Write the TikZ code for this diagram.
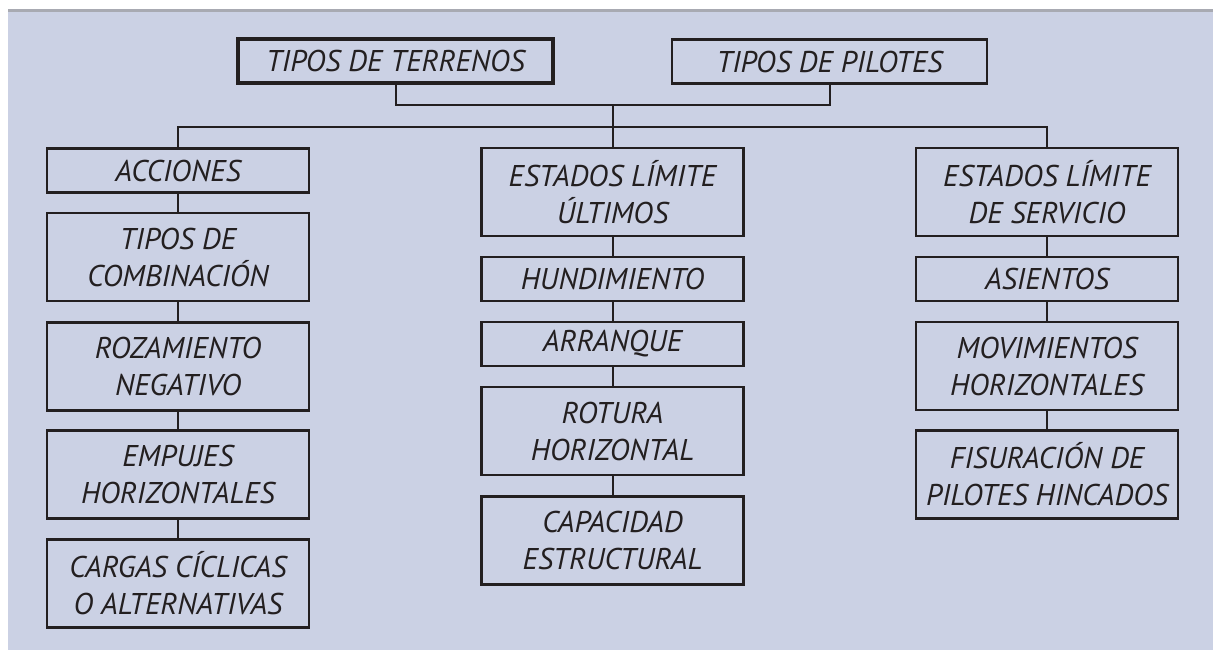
\documentclass[tikz,border=0pt]{standalone}
\usepackage{fontspec}
\setmainfont{PT Sans}
\usepackage{tikz}
\usetikzlibrary{positioning}
\definecolor{fondoAzul}{RGB}{203,209,228}
\definecolor{lineaGris}{RGB}{168,170,178}
\definecolor{tinta}{RGB}{35,31,32}

\begin{document}
\begin{tikzpicture}[
    x=0.5pt, y=-0.5pt,
    every node/.style={font=\itshape\fontsize{15}{18.5}\selectfont, text=tinta},
    caja/.style={draw=tinta, line width=1.25pt, minimum width=131pt, minimum height=22pt, align=center, inner sep=0pt},
    cajados/.style={caja, minimum height=44pt},
    cajasup/.style={caja, minimum width=157.5pt, minimum height=22pt},
    linea/.style={draw=tinta, line width=1pt}
]

    % Fondo
    \useasboundingbox (0,0) rectangle (1213,650);
    \fill[fondoAzul] (8,12) rectangle (1213,650);
    \fill[lineaGris] (8,9) rectangle (1213,12);

    % Cajas superiores
    \node[cajasup, line width=1.75pt] (terr) at (395.5,61) {TIPOS DE TERRENOS};
    \node[cajasup] (pil) at (829.5,61.5) {TIPOS DE PILOTES};

    % Columna izquierda
    \node[caja] (acc) at (178,170.5) {ACCIONES};
    \node[cajados] (comb) at (178,257) {TIPOS DE\\COMBINACIÓN};
    \node[cajados] (roz) at (178,366.5) {ROZAMIENTO\\NEGATIVO};
    \node[cajados] (emp) at (178,474.5) {EMPUJES\\HORIZONTALES};
    \node[cajados] (carg) at (178,583.5) {CARGAS CÍCLICAS\\O ALTERNATIVAS};

    % Columna central
    \node[cajados] (elu) at (612.5,192) {ESTADOS LÍMITE\\ÚLTIMOS};
    \node[caja] (hund) at (612.5,279) {HUNDIMIENTO};
    \node[caja] (arr) at (612.5,344) {ARRANQUE};
    \node[cajados] (rot) at (612.5,431) {ROTURA\\HORIZONTAL};
    \node[cajados] (cap) at (612.5,540.5) {CAPACIDAD\\ESTRUCTURAL};

    % Columna derecha
    \node[cajados] (els) at (1047,192) {ESTADOS LÍMITE\\DE SERVICIO};
    \node[caja] (asi) at (1047,279) {ASIENTOS};
    \node[cajados] (mov) at (1047,366) {MOVIMIENTOS\\HORIZONTALES};
    \node[cajados] (fis) at (1047,474.5) {FISURACIÓN DE\\PILOTES HINCADOS};

    % Uniones
    \coordinate (union) at (612.5,105);
    \coordinate (barra) at (612.5,127);
    \draw[linea] (terr.south) |- (union) -| (pil.south);
    \draw[linea] (union) -- (elu.north);
    \draw[linea] (acc.north) |- (barra) -| (els.north);

    \draw[linea] (acc) -- (comb);
    \draw[linea] (comb) -- (roz);
    \draw[linea] (roz) -- (emp);
    \draw[linea] (emp) -- (carg);

    \draw[linea] (elu) -- (hund);
    \draw[linea] (hund) -- (arr);
    \draw[linea] (arr) -- (rot);
    \draw[linea] (rot) -- (cap);

    \draw[linea] (els) -- (asi);
    \draw[linea] (asi) -- (mov);
    \draw[linea] (mov) -- (fis);

\end{tikzpicture}
\end{document}
